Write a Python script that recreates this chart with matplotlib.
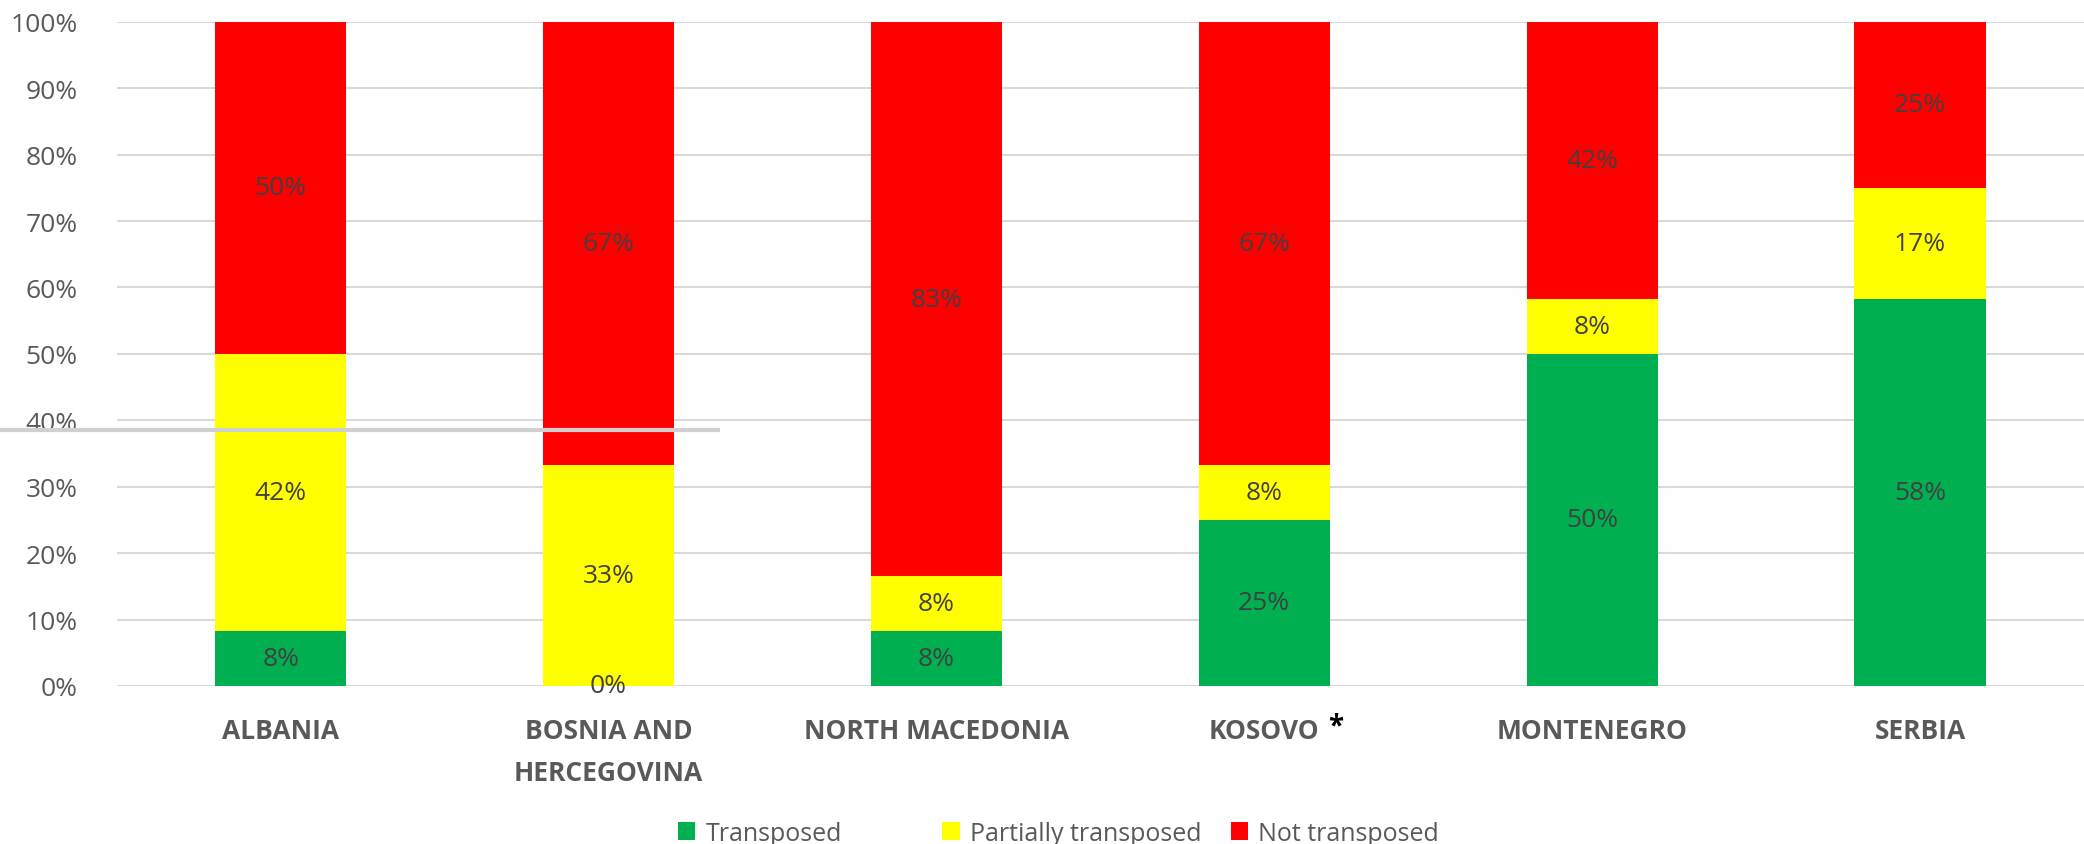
import numpy as np
import matplotlib.pyplot as plt
from matplotlib.lines import Line2D

plt.rcParams['font.family'] = ['Open Sans', 'DejaVu Sans']

# data (share of measures, %)
countries = ['ALBANIA', 'BOSNIA AND\nHERCEGOVINA', 'NORTH MACEDONIA', 'KOSOVO', 'MONTENEGRO', 'SERBIA']
transposed = [8.3, 0.0, 8.3, 25.0, 50.0, 58.3]
partial = [41.7, 33.3, 8.3, 8.3, 8.3, 16.7]
not_transposed = [50.0, 66.7, 83.3, 66.7, 41.7, 25.0]
series_names = ['Transposed', 'Partially transposed', 'Not transposed']
colors = ['#00b050', '#ffff00', '#ff0000']

fig = plt.figure(figsize=(20.84, 8.45), dpi=100)
ax = fig.add_axes([0.056, 0.187, 0.944, 0.786])

x = np.arange(len(countries))
bottom = np.zeros(len(countries))
for vals, name, c in zip([transposed, partial, not_transposed], series_names, colors):
    vals = np.array(vals)
    ax.bar(x, vals, 0.4, bottom=bottom, color=c, label=name, zorder=2)
    for xi, b, v in zip(x, bottom, vals):
        ax.text(xi, b + v / 2, '%d%%' % round(v), ha='center', va='center',
                fontsize=19, color='#404040', zorder=3)
    bottom += vals

ax.set_xlim(-0.5, len(countries) - 0.5)
ax.set_ylim(0, 100)
ax.set_yticks(np.arange(0, 101, 10))
ax.set_yticklabels(['%d%%' % v for v in range(0, 101, 10)])
ax.yaxis.grid(True, color='#d9d9d9', linewidth=1.5, zorder=0)
ax.set_axisbelow(True)
for s in ax.spines.values():
    s.set_visible(False)
ax.tick_params(axis='y', length=0, pad=28, labelsize=19, labelcolor='#595959')
ax.tick_params(axis='x', length=0, pad=22, labelsize=19, labelcolor='#595959')
ax.set_xticks(x)
ax.set_xticklabels(countries, fontweight='bold', linespacing=1.75, va='top')

# asterisk after KOSOVO (superscript)
ax.annotate('*', xy=(3, 0), xycoords=('data', 'axes fraction'), xytext=(46, -18),
            textcoords='offset points', ha='left', va='top', fontsize=20,
            fontweight='bold', color='black')

# stray grey line in the original
fig.add_artist(Line2D([0, 0.3445], [0.49, 0.49], color='#d0d0d0', linewidth=3))

# legend entries spaced like the original (equal-width slots)
handles, labels = ax.get_legend_handles_labels()
for h, lab, lx in zip(handles, labels, [0.3253, 0.4522, 0.5905]):
    leg = fig.legend([h], [lab], loc='center left', bbox_to_anchor=(lx, 0.013),
                     frameon=False, fontsize=18, borderpad=0, borderaxespad=0,
                     handlelength=0.7, handleheight=0.7, handletextpad=0.4)
    for t in leg.get_texts():
        t.set_color('#595959')

fig.savefig('out.png', dpi=100)
